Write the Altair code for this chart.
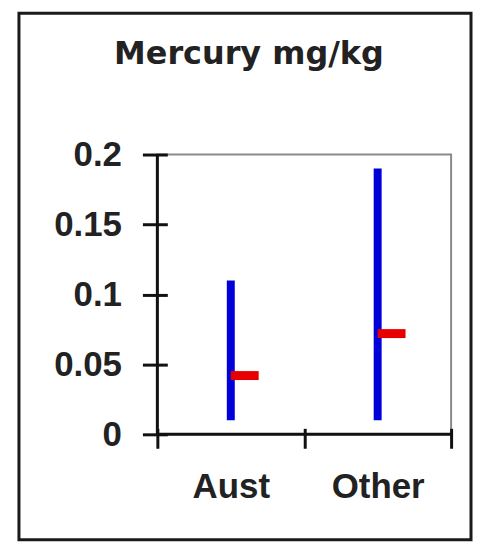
import altair as alt
import pandas as pd

# ---- data ----
categories = ["Aust", "Other"]
low_values = [0.01, 0.01]
high_values = [0.11, 0.19]
mean_values = [0.042, 0.072]
y_tick_values = [0, 0.05, 0.1, 0.15, 0.2]
chart_title = "Mercury mg/kg"

df = pd.DataFrame({"cat": categories, "lo": low_values, "hi": high_values, "mean": mean_values})

FONT = "Liberation Sans"
W, H = 295, 281

x_enc = alt.X(
    "cat:N",
    sort=categories,
    title=None,
    scale=alt.Scale(paddingInner=0, paddingOuter=0),
    axis=alt.Axis(
        domain=False, offset=-6, tickSize=20, tickWidth=3, tickColor="#111",
        tickBand="extent", labelAngle=0, labelFont=FONT, labelFontSize=35,
        labelFontWeight="bold", labelColor="#222", labelPadding=21, grid=False,
    ),
)
y_scale = alt.Scale(domain=[0, 0.2], nice=False, zero=True)
y_enc = alt.Y(
    "lo:Q",
    title=None,
    scale=y_scale,
    axis=alt.Axis(
        values=y_tick_values, format=".2~f", domain=False, offset=-10, tickSize=25,
        tickWidth=3, tickColor="#111", labelFont=FONT, labelFontSize=35,
        labelFontWeight="bold", labelColor="#222", labelPadding=21, grid=False,
    ),
)

ranges = alt.Chart(df).mark_rule(strokeWidth=8, color="#0000d8", strokeCap="butt").encode(
    x=x_enc, y=y_enc, y2="hi:Q"
)

means = alt.Chart(df).mark_tick(color="#e80000", opacity=1, thickness=9, size=28, xOffset=14).encode(
    x=alt.X("cat:N", sort=categories),
    y=alt.Y("mean:Q", scale=y_scale),
)

one = alt.Data(values=[{"a": 1}])
left_line = alt.Chart(one).mark_rule(color="#111", strokeWidth=3).encode(
    x=alt.value(0), y=alt.value(0), y2=alt.value(H)
)
bottom_line = alt.Chart(one).mark_rule(color="#111", strokeWidth=3).encode(
    x=alt.value(0), x2=alt.value(W), y=alt.value(H)
)
frame = alt.Chart(one).mark_rect(filled=False, stroke="#1a1a1a", strokeWidth=3).encode(
    x=alt.value(-139), x2=alt.value(315), y=alt.value(-142), y2=alt.value(387)
)
title = alt.Chart(one).mark_text(
    font="DejaVu Sans", fontSize=32, fontWeight="bold", color="#222", align="center", baseline="alphabetic"
).encode(x=alt.value(92), y=alt.value(-91), text=alt.value(chart_title))

chart = (
    alt.layer(frame, title, ranges, means, left_line, bottom_line)
    .properties(
        width=W, height=H,
        autosize=alt.AutoSizeParams(type="none"),
        padding={"left": 150, "top": 146, "right": 22, "bottom": 110},
        background="white",
    )
    .configure_view(stroke="#8a8a8a", strokeWidth=2)
)

chart.save("out.html", embed_options={"renderer": "svg", "actions": False})
